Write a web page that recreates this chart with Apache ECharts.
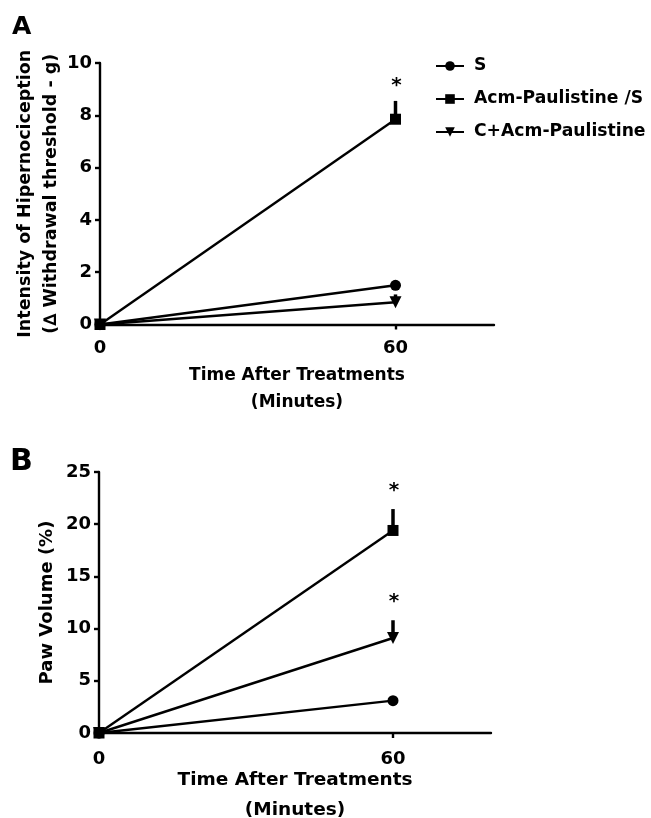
<!DOCTYPE html>
<html>
<head>
<meta charset="utf-8">
<script src="https://cdn.jsdelivr.net/npm/echarts@6/dist/echarts.min.js"></script>
<style>
  html, body { margin: 0; padding: 0; background: #fff; }
  #chart { width: 651px; height: 818px; }
</style>
</head>
<body>
<div id="chart"></div>
<script>
// Time points (minutes) and tick values on the time axis
const timePoints = [0, 60];
const xTicks = [0, 60];
const seriesNames = ['S', 'Acm-Paulistine /S', 'C+Acm-Paulistine'];

// Panel A: intensity of hypernociception (Δ withdrawal threshold, g)
const hyperS = [0, 1.5];
const hyperAcm = [0, 7.85];
const hyperC = [0, 0.85];
// SEM at 60 min, in series order (S, Acm-Paulistine /S, C+Acm-Paulistine)
const hyperSem = [0, 0.7, 0.3];
const hyperSig = [false, true, false];

// Panel B: paw volume (%)
const edemaS = [0, 3.1];
const edemaAcm = [0, 19.4];
const edemaC = [0, 9.1];
const edemaSem = [0, 2.05, 1.7];
const edemaSig = [false, true, true];

const FONT = 'DejaVu Sans';
const BLACK = '#000';

const markers = [
  { symbol: 'circle', size: 11, rotate: 0 },
  { symbol: 'rect', size: 11, rotate: 0 },
  { symbol: 'triangle', size: 12, rotate: 180 }
];

function lineSeries(idx, values, axisIdx) {
  return {
    type: 'line',
    name: seriesNames[idx],
    xAxisIndex: axisIdx,
    yAxisIndex: axisIdx,
    data: timePoints.map((t, i) => [t, values[i]]),
    symbol: markers[idx].symbol,
    symbolSize: markers[idx].size,
    symbolRotate: markers[idx].rotate,
    showAllSymbol: true,
    lineStyle: { color: BLACK, width: 2.4 },
    itemStyle: { color: BLACK },
    emphasis: { disabled: true },
    z: 3
  };
}

// Upward SEM bars at 60 min, with an asterisk over significant groups
function errorSeries(axisIdx, finalMeans, sems, sig, starGap) {
  const data = [];
  finalMeans.forEach((m, k) => {
    if (sems[k] > 0) data.push([timePoints[1], m, sems[k], sig[k] ? 1 : 0]);
  });
  return {
    type: 'custom',
    xAxisIndex: axisIdx,
    yAxisIndex: axisIdx,
    data: data,
    silent: true,
    z: 4,
    renderItem: function (params, api) {
      const x = api.value(0), m = api.value(1), s = api.value(2);
      const p0 = api.coord([x, m]);
      const p1 = api.coord([x, m + s]);
      const children = [{
        type: 'line',
        shape: { x1: p0[0], y1: p0[1], x2: p1[0], y2: p1[1] },
        style: { stroke: BLACK, lineWidth: 3.5 }
      }];
      if (api.value(3)) {
        children.push({
          type: 'text',
          x: p1[0] + 1,
          y: p1[1] - starGap,
          style: {
            text: '*', fill: BLACK, fontFamily: FONT, fontWeight: 'bold', fontSize: 20,
            align: 'center', verticalAlign: 'middle'
          }
        });
      }
      return { type: 'group', children: children };
    }
  };
}

const tickLabelStyle = (size) => ({
  color: BLACK, fontFamily: FONT, fontWeight: 'bold', fontSize: size
});

function xAxisFor(gridIndex, labelSize, nameSize, nameGap, lineHeight, labelMargin) {
  return {
    gridIndex: gridIndex,
    type: 'value',
    min: 0,
    max: 80,
    axisLine: { show: true, onZero: false, lineStyle: { color: BLACK, width: 2.4 } },
    axisTick: { show: true, customValues: xTicks, length: 5, lineStyle: { color: BLACK, width: 2.4 } },
    axisLabel: Object.assign({ customValues: xTicks, margin: labelMargin }, tickLabelStyle(labelSize)),
    splitLine: { show: false },
    name: 'Time After Treatments\n(Minutes)',
    nameLocation: 'middle',
    nameGap: nameGap,
    nameMoveOverlap: false,
    nameTextStyle: {
      color: BLACK, fontFamily: FONT, fontWeight: 'bold', fontSize: nameSize, lineHeight: lineHeight
    }
  };
}

function yAxisFor(gridIndex, max, interval, name, nameSize, nameGap, lineHeight) {
  return {
    gridIndex: gridIndex,
    type: 'value',
    min: 0,
    max: max,
    interval: interval,
    axisLine: { show: true, onZero: false, lineStyle: { color: BLACK, width: 2.4 } },
    axisTick: { show: true, length: 5, lineStyle: { color: BLACK, width: 2.4 } },
    axisLabel: Object.assign({ margin: 8 }, tickLabelStyle(18)),
    splitLine: { show: false },
    name: name,
    nameLocation: 'middle',
    nameRotate: 90,
    nameGap: nameGap,
    nameMoveOverlap: false,
    nameTextStyle: {
      color: BLACK, fontFamily: FONT, fontWeight: 'bold', fontSize: nameSize, lineHeight: lineHeight
    }
  };
}

const chart = echarts.init(document.getElementById('chart'), null, { renderer: 'canvas' });

chart.setOption({
  animation: false,
  backgroundColor: '#fff',
  grid: [
    { left: 100, top: 63, width: 394, height: 261.5, containLabel: false, outerBoundsMode: 'none' },
    { left: 99, top: 472, width: 392, height: 261, containLabel: false, outerBoundsMode: 'none' }
  ],
  xAxis: [
    xAxisFor(0, 18, 17, 38, 27, 15),
    xAxisFor(1, 18, 18.5, 32, 30, 17)
  ],
  yAxis: [
    yAxisFor(0, 10, 2, 'Intensity of Hipernociception\n(\u2206 Withdrawal threshold - g)', 17.5, 36, 26),
    yAxisFor(1, 25, 5, 'Paw Volume (%)', 18, 41, 22)
  ],
  legend: {
    data: seriesNames,
    orient: 'vertical',
    left: 430,
    top: 51,
    itemWidth: 28,
    itemHeight: 12,
    itemGap: 13,
    selectedMode: false,
    textStyle: {
      color: BLACK, fontFamily: FONT, fontWeight: 'bold', fontSize: 17.2, lineHeight: 20,
      padding: [0, 0, 0, 5]
    }
  },
  graphic: [
    {
      type: 'text', left: 12, top: 15,
      style: { text: 'A', fill: BLACK, fontFamily: FONT, fontWeight: 'bold', fontSize: 25 }
    },
    {
      type: 'text', left: 10, top: 447,
      style: { text: 'B', fill: BLACK, fontFamily: FONT, fontWeight: 'bold', fontSize: 30 }
    }
  ],
  series: [
    lineSeries(0, hyperS, 0),
    lineSeries(1, hyperAcm, 0),
    lineSeries(2, hyperC, 0),
    errorSeries(0, [hyperS[1], hyperAcm[1], hyperC[1]], hyperSem, hyperSig, 15),
    lineSeries(0, edemaS, 1),
    lineSeries(1, edemaAcm, 1),
    lineSeries(2, edemaC, 1),
    errorSeries(1, [edemaS[1], edemaAcm[1], edemaC[1]], edemaSem, edemaSig, 18)
  ]
});
</script>
</body>
</html>
